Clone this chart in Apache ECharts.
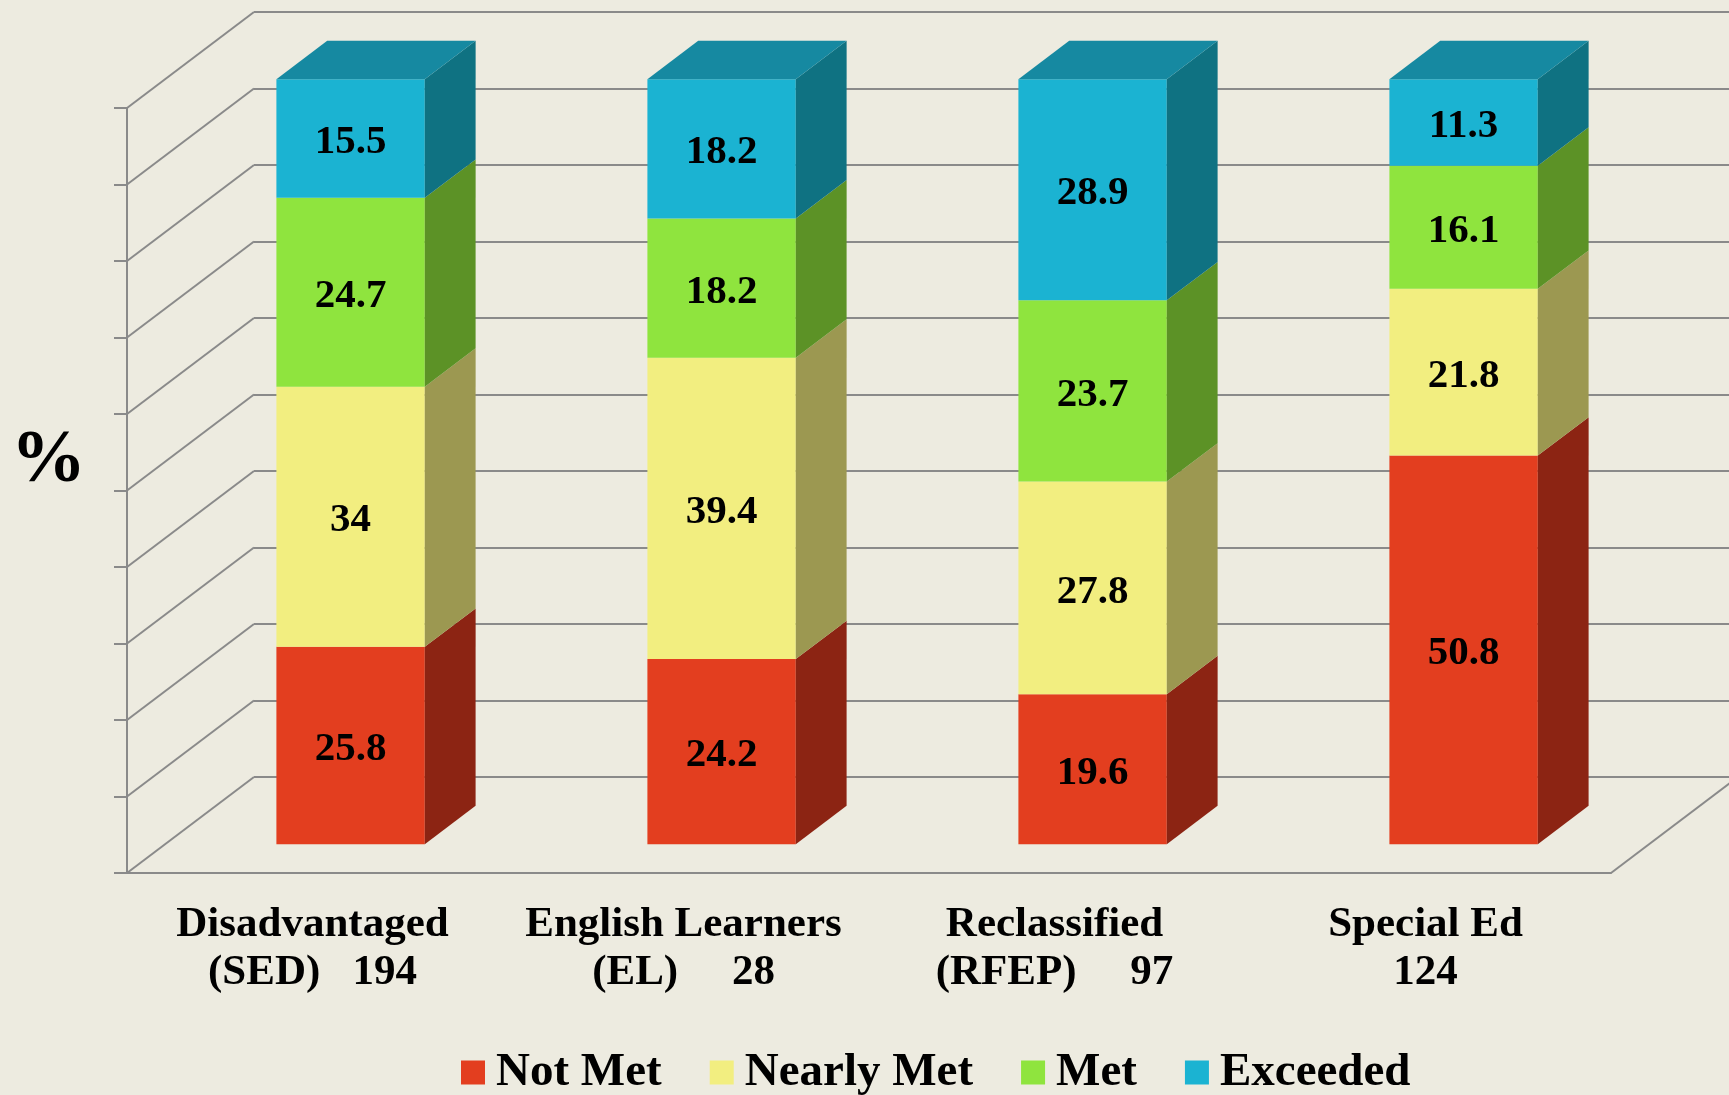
<!DOCTYPE html>
<html>
<head>
<meta charset="utf-8">
<script src="https://cdn.jsdelivr.net/npm/echarts@6/dist/echarts.min.js"></script>
<style>
  html, body { margin: 0; padding: 0; background: #edebe0; }
  #main { width: 1729px; height: 1095px; }
</style>
</head>
<body>
<div id="main"></div>
<script>
// data (percent of students)
const categories = ['Disadvantaged\n(SED)   194', 'English Learners\n(EL)     28', 'Reclassified\n(RFEP)     97', 'Special Ed\n124'];
const seriesNames = ['Not Met', 'Nearly Met', 'Met', 'Exceeded'];
const notMet = [25.8, 24.2, 19.6, 50.8];
const nearlyMet = [34, 39.4, 27.8, 21.8];
const met = [24.7, 18.2, 23.7, 16.1];
const exceeded = [15.5, 18.2, 28.9, 11.3];
const yTicks = [0, 10, 20, 30, 40, 50, 60, 70, 80, 90, 100];

const frontColors = ['#e33e1f', '#f2ee80', '#8fe43e', '#1bb3d2'];
const sideColors = ['#8c2413', '#9c9851', '#5c9226', '#0f7282'];
const topColor = '#1689a1';
const gridColor = '#8a8a8a';
const FONT = '"Liberation Serif", "Times New Roman", serif';

// depth of the fake 3d box (pixels)
const DX = 127, DY = -96;
const BAR_FRONT = 0.3, BAR_DEPTH = 0.4, BAR_W = 0.4;

const stacks = [notMet, nearlyMet, met, exceeded];

function barSeries(k) {
    const data = categories.map((c, i) => {
        let base = 0;
        for (let j = 0; j < k; j++) base += stacks[j][i];
        return [i, base, base + stacks[k][i], stacks[k][i]];
    });
    const isTop = k === stacks.length - 1;
    return {
        name: seriesNames[k],
        type: 'custom',
        xAxisIndex: 0,
        yAxisIndex: 0,
        itemStyle: { color: frontColors[k] },
        encode: { x: 0, y: 2 },
        data,
        z: 10,
        renderItem(params, api) {
            const i = api.value(0);
            const lo = api.coord([i, api.value(1)]);
            const hi = api.coord([i, api.value(2)]);
            const band = api.size([1, 0])[0];
            const w = band * BAR_W;
            const x0 = lo[0] - w / 2 + DX * BAR_FRONT;
            const x1 = x0 + w;
            const yb = lo[1] + DY * BAR_FRONT;
            const yt = hi[1] + DY * BAR_FRONT;
            const ddx = DX * BAR_DEPTH, ddy = DY * BAR_DEPTH;
            const children = [
                {
                    type: 'polygon',
                    shape: { points: [[x0, yb], [x1, yb], [x1, yt], [x0, yt]] },
                    style: { fill: frontColors[k] }
                },
                {
                    type: 'polygon',
                    shape: { points: [[x1, yb], [x1 + ddx, yb + ddy], [x1 + ddx, yt + ddy], [x1, yt]] },
                    style: { fill: sideColors[k] }
                }
            ];
            if (isTop) {
                children.push({
                    type: 'polygon',
                    shape: { points: [[x0, yt], [x1, yt], [x1 + ddx, yt + ddy], [x0 + ddx, yt + ddy]] },
                    style: { fill: topColor }
                });
            }
            children.push({
                type: 'text',
                x: (x0 + x1) / 2,
                y: (yb + yt) / 2 + 4,
                style: {
                    text: String(api.value(3)),
                    fill: '#000',
                    font: 'bold 41px ' + FONT,
                    align: 'center',
                    verticalAlign: 'middle'
                }
            });
            return { type: 'group', children };
        }
    };
}

// the slanted lines of the left wall and the floor
const wallSeries = {
    type: 'custom',
    xAxisIndex: 0,
    yAxisIndex: 0,
    silent: true,
    z: 1,
    data: yTicks.map(v => [0, v]),
    renderItem(params, api) {
        const cs = params.coordSys;
        const p = api.coord([0, api.value(1)]);
        const style = { stroke: gridColor, lineWidth: 2 };
        const children = [{
            type: 'line',
            shape: { x1: cs.x, y1: p[1], x2: cs.x + DX, y2: p[1] + DY },
            style
        }];
        if (api.value(1) === 0) {
            children.push({
                type: 'line',
                shape: { x1: cs.x + cs.width, y1: p[1], x2: cs.x + cs.width + DX, y2: p[1] + DY },
                style
            });
        }
        return { type: 'group', children };
    }
};

const chart = echarts.init(document.getElementById('main'));
chart.setOption({
    backgroundColor: '#edebe0',
    animation: false,
    grid: [
        { left: 127, top: 108, width: 1484, height: 765 },
        { left: 254, top: 12, width: 1484, height: 765 }
    ],
    xAxis: [
        {
            type: 'category',
            gridIndex: 0,
            data: categories,
            axisLine: { show: true, lineStyle: { color: gridColor, width: 2 } },
            axisTick: { show: false },
            axisLabel: {
                color: '#000',
                fontFamily: FONT,
                fontWeight: 'bold',
                fontSize: 43,
                lineHeight: 48,
                margin: 28,
                interval: 0
            }
        },
        {
            type: 'category',
            gridIndex: 1,
            data: categories,
            show: false
        }
    ],
    yAxis: [
        {
            type: 'value',
            gridIndex: 0,
            min: 0,
            max: 100,
            interval: 10,
            axisLine: { show: true, lineStyle: { color: gridColor, width: 2 } },
            axisTick: { show: true, length: 13, lineStyle: { color: gridColor, width: 2 } },
            axisLabel: { show: false },
            splitLine: { show: false }
        },
        {
            type: 'value',
            gridIndex: 1,
            min: 0,
            max: 100,
            interval: 10,
            axisLine: { show: false },
            axisTick: { show: false },
            axisLabel: { show: false },
            splitLine: { show: true, lineStyle: { color: gridColor, width: 2 } }
        }
    ],
    legend: {
        data: seriesNames,
        left: 456,
        top: 1044,
        icon: 'rect',
        itemWidth: 24,
        itemHeight: 24,
        itemGap: 48,
        textStyle: {
            color: '#000',
            fontFamily: FONT,
            fontWeight: 'bold',
            fontSize: 47,
            padding: [0, 0, 0, 6]
        }
    },
    graphic: [{
        type: 'text',
        left: 11,
        top: 424,
        style: {
            text: '%',
            fill: '#000',
            font: 'bold 75px ' + FONT
        }
    }],
    series: [wallSeries].concat(stacks.map((s, k) => barSeries(k)))
});
</script>
</body>
</html>
